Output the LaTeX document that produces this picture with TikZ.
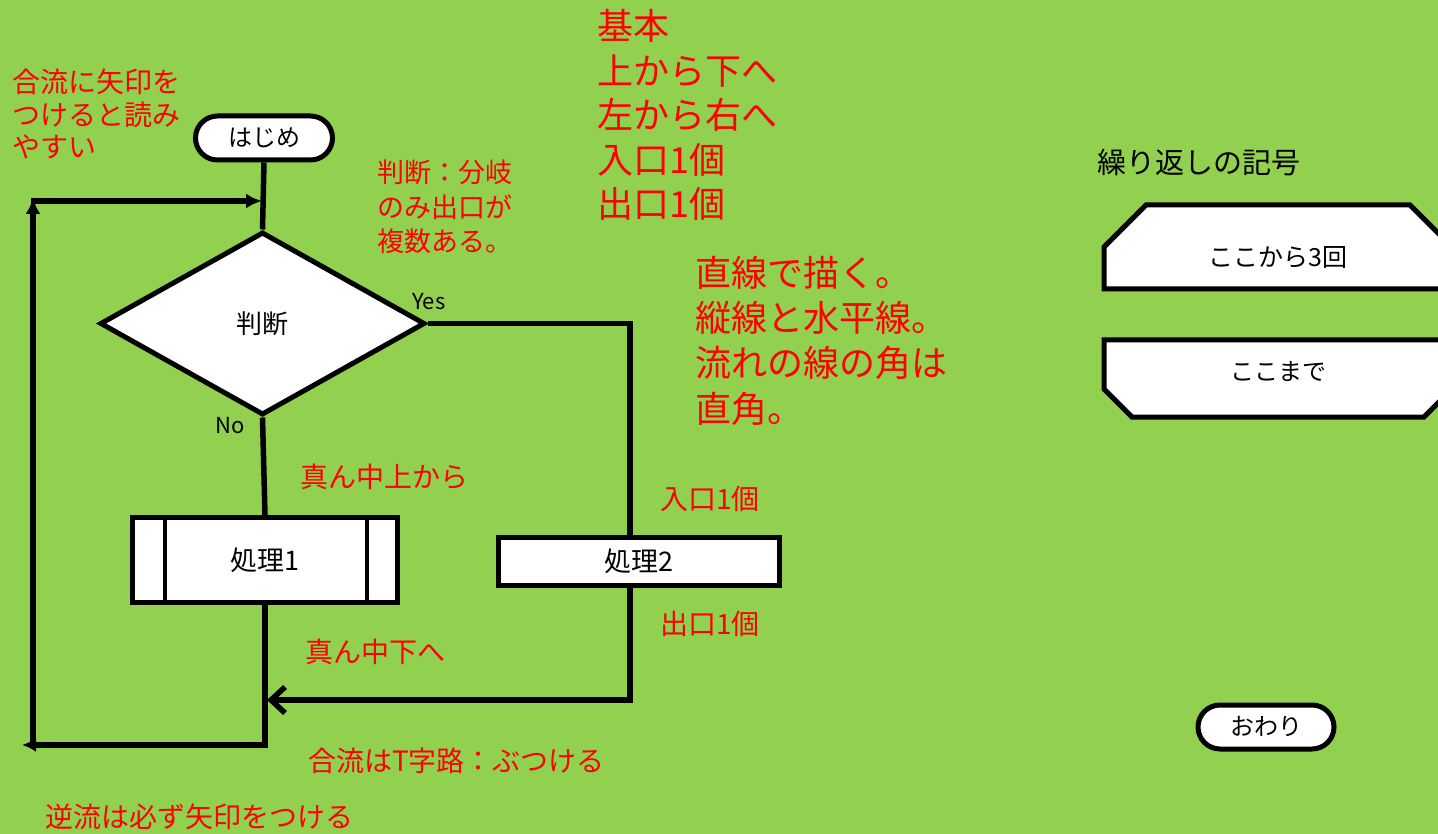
\documentclass[tikz,border=0pt]{standalone}
\usepackage{fontspec}
\setmainfont{Noto Sans CJK JP}
\usetikzlibrary{shapes.geometric,arrows.meta}
\definecolor{sheet}{HTML}{92D050}
\definecolor{note}{HTML}{FF0000}

\begin{document}
\begin{tikzpicture}[x=1pt,y=-1pt,
	flow/.style={line width=5.5pt},
	head/.style={-{Latex[length=16pt,width=15pt]}},
	shapebox/.style={draw, line width=5pt, fill=white, inner sep=0pt},
	terminal/.style={shapebox, rounded corners=22pt, minimum width=137pt, minimum height=44pt, font=\fontsize{24}{28}\selectfont},
	decision/.style={shapebox, diamond, minimum width=325pt, minimum height=183pt, font=\fontsize{26}{30}\selectfont},
	process/.style={shapebox, font=\fontsize{27}{30}\selectfont},
	loopedge/.style={draw, line width=5pt, fill=white, line join=miter},
	memo/.style={text=note, anchor=base west, align=left, inner sep=0pt, font=\fontsize{28}{33}\selectfont},
	bigmemo/.style={memo, font=\fontsize{36}{44.5}\selectfont},
	tag/.style={anchor=base west, inner sep=0pt, font=\fontsize{22}{26}\selectfont}]
	\useasboundingbox (0,0) rectangle (1438,834);
	\clip (0,0) rectangle (1438,834);
	\fill[sheet] (0,0) rectangle (1438,834);

	\node [terminal] (start) at (264,138) {はじめ};
	\node [decision] (judge) at (262.5,323.5) {判断};
	\node [process, minimum width=265pt, minimum height=85pt] (proc1) at (265,560) {処理1};
	\node [process, minimum width=281pt, minimum height=48pt] (proc2) at (639,561.5) {処理2};
	\node [terminal, minimum width=136pt] (stop) at (1266,727) {おわり};
	\draw [line width=4pt] ([xshift=35pt]proc1.north west) -- ([xshift=35pt]proc1.south west);
	\draw [line width=4pt] ([xshift=-33pt]proc1.north east) -- ([xshift=-33pt]proc1.south east);

	\coordinate (merge) at (267,700);
	\coordinate (loopbottom) at (22,745);
	\coordinate (loopcorner) at (33,747);
	\coordinate (looptop) at (33,198);
	\coordinate (loopstart) at (31,201);
	\coordinate (loopjoin) at (262,201);

	\draw [flow] (start.south) -- (judge.north);
	\draw [flow] (judge.south) -- (proc1.north);
	\draw [flow] (judge.east) -| ([xshift=-9pt]proc2.north);
	\draw [flow, -{Straight Barb[length=14pt,width=26pt]}] ([xshift=-9pt]proc2.south) |- (merge);
	\draw [flow, -{Latex[length=14pt,width=14pt]}] (proc1.south) |- (loopbottom);
	\draw [flow, head] (loopcorner) -- (looptop);
	\draw [flow, head] (loopstart) -- (loopjoin);

	\node [tag] (yes) at (412,310) {Yes};
	\node [tag] (no) at (215,433) {No};

	\draw [loopedge] (1104,247) -- (1146,205) -- (1410,205) -- (1452,247) -- (1452,289) -- (1104,289) -- cycle;
	\draw [loopedge] (1104,340) -- (1452,340) -- (1452,389) -- (1424,417) -- (1132,417) -- (1104,389) -- cycle;
	\node [font=\fontsize{25}{28}\selectfont] (loopfrom) at (1278,258) {ここから3回};
	\node [font=\fontsize{24}{28}\selectfont] (loopto) at (1278,372) {ここまで};
	\node [tag, font=\fontsize{29}{33}\selectfont] (looptitle) at (1097,174) {繰り返しの記号};

	\node [memo, font=\fontsize{28}{32.5}\selectfont] (mergenote) at (12,158) {合流に矢印を\\つけると読み\\やすい};
	\node [memo, font=\fontsize{27}{34.5}\selectfont] (branchnote) at (377,252) {判断：分岐\\のみ出口が\\複数ある。};
	\node [bigmemo] (basics) at (597,218) {基本\\上から下へ\\左から右へ\\入口1個\\出口1個};
	\node [bigmemo, font=\fontsize{36}{45.3}\selectfont] (linenote) at (695,422) {直線で描く。\\縦線と水平線。\\流れの線の角は\\直角。};
	\node [memo] (topnote) at (300,487) {真ん中上から};
	\node [memo] (innote) at (660,509) {入口1個};
	\node [memo] (outnote) at (660,634) {出口1個};
	\node [memo] (bottomnote) at (305,662) {真ん中下へ};
	\node [memo] (joinnote) at (308,771) {合流はT字路：ぶつける};
	\node [memo] (backnote) at (45,827) {逆流は必ず矢印をつける};
\end{tikzpicture}
\end{document}
